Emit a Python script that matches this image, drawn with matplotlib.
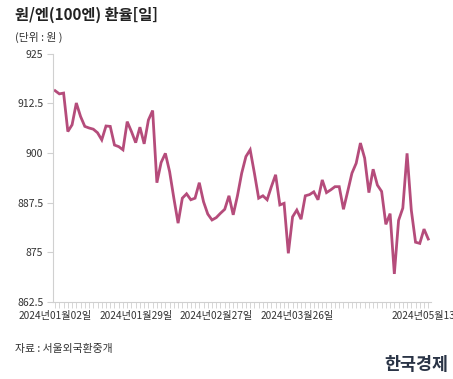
# KRW per 100 JPY, daily
import numpy as np
import matplotlib as mpl
import matplotlib.pyplot as plt

plt.rcParams['font.family'] = ['Noto Sans CJK KR', 'DejaVu Sans']

# values, one per trading day (2024-01-02 .. 2024-05-13)
rates = [915.7, 914.9, 915.1, 905.4, 907.1, 912.6, 909.2, 906.7, 906.3, 906.0,
         905.1, 903.3, 906.8, 906.7, 902.0, 901.6, 900.8, 907.9, 905.4, 902.6,
         906.5, 902.3, 908.3, 910.7, 892.5, 897.6, 899.9, 895.3, 888.6, 882.3,
         888.6, 889.7, 888.2, 888.6, 892.5, 887.7, 884.6, 883.1, 883.7, 884.8,
         885.8, 889.2, 884.4, 889.2, 894.9, 899.1, 900.8, 894.9, 888.6, 889.2,
         888.2, 891.5, 894.5, 886.9, 887.3, 874.7, 883.9, 885.6, 883.3, 889.2,
         889.5, 890.2, 888.2, 893.2, 890.0, 890.7, 891.5, 891.5, 885.8, 890.3,
         894.9, 897.4, 902.5, 898.7, 890.0, 895.9, 891.9, 890.3, 882.0, 884.7,
         869.5, 883.0, 886.1, 899.9, 885.6, 877.5, 877.2, 880.8, 878.3]

tick_idx = [0, 19, 38, 57, 88]
tick_labels = ['2024년01월02일', '2024년01월29일', '2024년02월27일',
               '2024년03월26일', '2024년05월13일']
y_ticks = [862.5, 875, 887.5, 900, 912.5, 925]
y_labels = ['862.5', '875', '887.5', '900', '912.5', '925']

fig = plt.figure(figsize=(4.53, 3.79), dpi=100)
ax = fig.add_axes([0.117, 0.204, 0.834, 0.654])

x = np.arange(len(rates))
ax.plot(x, rates, color='#b54c7b', lw=2.0, solid_joinstyle='miter')

ax.set_xlim(-0.5, 88.6)
ax.set_ylim(862.5, 925)
ax.set_yticks(y_ticks)
ax.set_yticklabels(y_labels)
ax.set_xticks(tick_idx)
ax.set_xticklabels(tick_labels)
ax.set_xticks(x, minor=True)

for s in ['top', 'right']:
    ax.spines[s].set_visible(False)
for s in ['left', 'bottom']:
    ax.spines[s].set_color('#d0d0d0')
    ax.spines[s].set_linewidth(0.8)

ax.tick_params(axis='y', length=4, width=0.8, color='#d0d0d0', labelsize=7.5,
               labelcolor='#333333', pad=3)
ax.tick_params(axis='x', which='both', length=4, width=0.6, color='#d0d0d0',
               labelsize=7.3, labelcolor='#333333', pad=3)

fig.text(0.033, 0.962, '원/엔(100엔) 환율[일]', fontsize=11, fontweight='bold',
         color='#222222', va='center')
fig.text(0.033, 0.9, '(단위 : 원 )', fontsize=7.8, color='#333333', va='center')
fig.text(0.033, 0.079, '자료 : 서울외국환중개', fontsize=7.8, color='#333333', va='center')
fig.text(0.989, 0.038, '한국경제', fontsize=12.5, fontweight='bold', color='#2a3446',
         va='center', ha='right')

fig.savefig('out.png', dpi=100)
